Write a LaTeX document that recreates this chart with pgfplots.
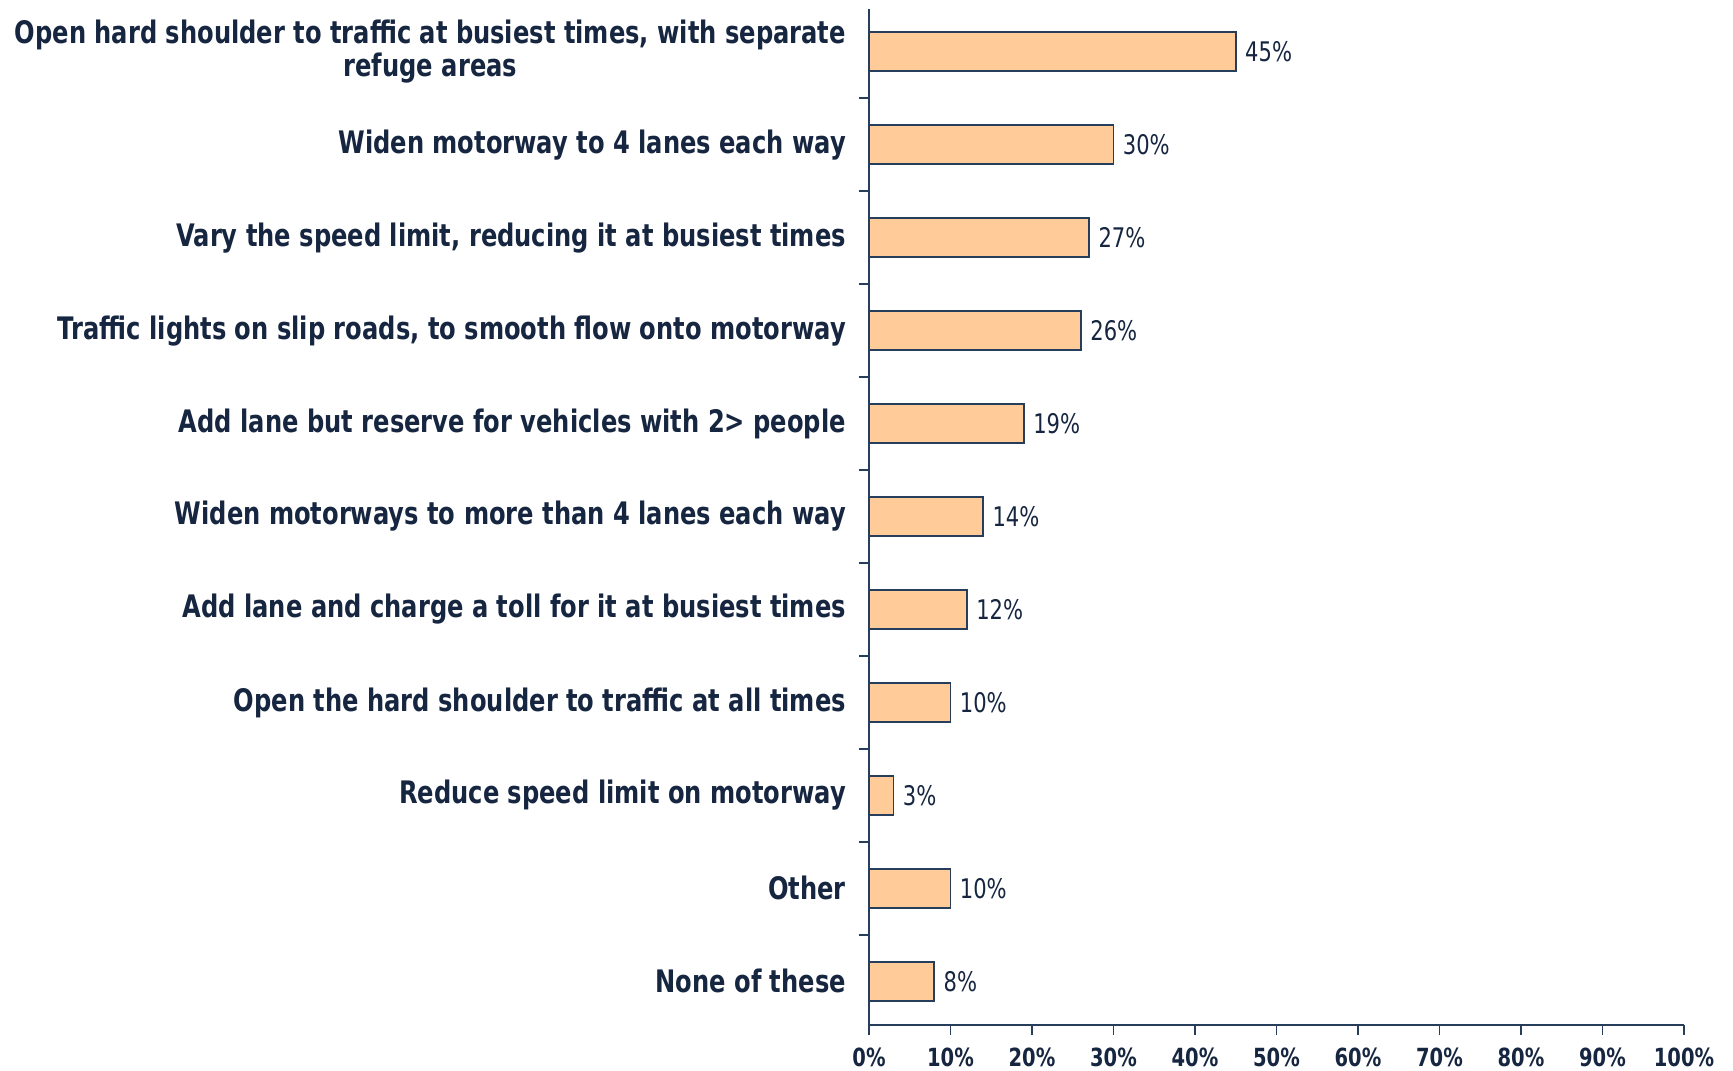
\documentclass[border=0pt]{standalone}
\usepackage{pgfplots}
\pgfplotsset{compat=1.18}
\usepackage{fontspec}
\setmainfont{DejaVu Sans}[FakeStretch=0.78]
\usetikzlibrary{calc}
\definecolor{txt}{RGB}{22,38,64}
\definecolor{edge}{RGB}{38,62,92}
\definecolor{barfill}{RGB}{255,204,153}
\begin{document}
\begin{tikzpicture}
\begin{axis}[
  name=ax,
  scale only axis,
  width=407.5pt, height=508pt,
  xbar, bar width=19.5pt,
  xmin=0, xmax=100,
  ymin=-0.46, ymax=10.47,
  y dir=reverse,
  axis lines=left,
  axis line style={edge, line width=0.9pt, -},
  xtick={0,10,...,100},
  xticklabel={\pgfmathprintnumber{\tick}\%},
  /pgf/number format/assume math mode=true,
  xticklabel style={font=\fontsize{12.5}{13}\selectfont\bfseries, text=txt, inner sep=1pt, yshift=-5.5pt},
  ytick={0,...,10},
  yticklabels={{Open hard shoulder to traffic at busiest times, with separate\\refuge areas},
    {Widen motorway to 4 lanes each way},
    {Vary the speed limit, reducing it at busiest times},
    {Traffic lights on slip roads, to smooth flow onto motorway},
    {Add lane but reserve for vehicles with 2> people},
    {Widen motorways to more than 4 lanes each way},
    {Add lane and charge a toll for it at busiest times},
    {Open the hard shoulder to traffic at all times},
    {Reduce speed limit on motorway},
    {Other},
    {None of these}},
  yticklabel style={font=\fontsize{15.5}{16.5}\selectfont\bfseries, text=txt, align=center, xshift=-3pt},
  major y tick style={draw=none},
  minor ytick={0.5,1.5,...,9.5},
  minor tick length=5pt,
  major tick length=5pt,
  tick align=outside,
  tick style={edge, line width=0.9pt},
  minor y tick style={edge, line width=0.9pt},
  nodes near coords={\pgfmathprintnumber{\pgfplotspointmeta}\%},
  nodes near coords style={font=\fontsize{13.5}{14}\selectfont, text=txt, anchor=west, xshift=1pt},
  clip=false,
]
\addplot[fill=barfill, draw=edge, line width=0.8pt] coordinates {
  (45,0) (30,1) (27,2) (26,3) (19,4) (14,5) (12,6) (10,7) (3,8) (10,9) (8,10)
};
\end{axis}
\pgfresetboundingbox
\path[use as bounding box] ($(ax.south west)+(-434.5pt,-22.5pt)$) rectangle ($(ax.north east)+(24.5pt,4.5pt)$);
\end{tikzpicture}
\end{document}
